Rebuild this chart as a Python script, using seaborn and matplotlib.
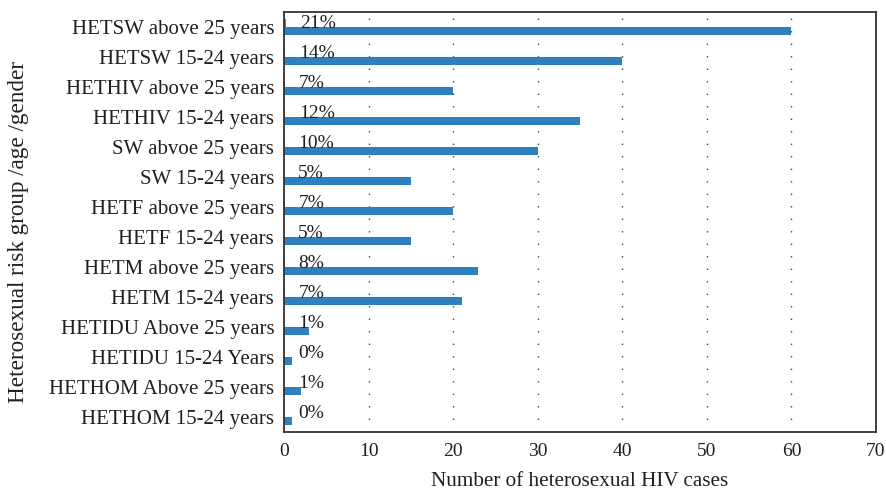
import numpy as np
import pandas as pd
import matplotlib
matplotlib.use("Agg")
import matplotlib.pyplot as plt
import seaborn as sns

groups = [
    "HETSW above 25 years", "HETSW 15-24 years",
    "HETHIV above 25 years", "HETHIV 15-24 years",
    "SW abvoe 25 years", "SW 15-24 years",
    "HETF above 25 years", "HETF 15-24 years",
    "HETM above 25 years", "HETM 15-24 years",
    "HETIDU Above 25 years", "HETIDU 15-24 Years",
    "HETHOM Above 25 years", "HETHOM 15-24 years",
]
cases = [60, 40, 20, 35, 30, 15, 20, 15, 23, 21, 3, 1, 2, 1]
percent = [21, 14, 7, 12, 10, 5, 7, 5, 8, 7, 1, 0, 1, 0]

df = pd.DataFrame({
    "Group": groups * 2,
    "Measure": ["Percent"] * len(groups) + ["Count"] * len(groups),
    "Value": [p / 100 for p in percent] + cases,
})

sns.set_style("white")
plt.rcParams["font.family"] = ["Liberation Serif", "DejaVu Serif"]

fig = plt.figure(figsize=(8.86, 4.97), dpi=100)
ax = fig.add_axes([0.3205, 0.1308, 0.6682, 0.8451])

sns.barplot(data=df, y="Group", x="Value", hue="Measure", order=groups,
            hue_order=["Percent", "Count"],
            palette={"Percent": "#c0504d", "Count": "#2e81c0"},
            width=0.52, orient="h", legend=False, ax=ax, saturation=1,
            linewidth=0)

ax.bar_label(ax.containers[0], labels=[f"{p}%" for p in percent],
             padding=10, fontsize=14, color="#231f20")

ax.set_xlim(0, 70)
ax.set_ylim(len(groups) - 0.5, -0.5)
ax.set_xticks(range(0, 71, 10))
for x in range(10, 70, 10):
    ax.axvline(x, color="#444444", linestyle=(0, (1, 8)), linewidth=1, zorder=0)

for s in ax.spines.values():
    s.set_visible(True)
    s.set_color("#333333")
    s.set_linewidth(1.3)

ax.tick_params(axis="both", length=0, labelsize=14, colors="#231f20", pad=8)
ax.tick_params(axis="y", labelsize=15, pad=7)
ax.set_xlabel("Number of heterosexual HIV cases", fontsize=15.2, color="#231f20")
ax.set_ylabel("Heterosexual risk group /age /gender", fontsize=16.7, color="#231f20")
ax.xaxis.set_label_coords(0.5, -0.095)
ax.yaxis.set_label_coords(-0.43, 0.475)

fig.savefig("out.png", dpi=100)
